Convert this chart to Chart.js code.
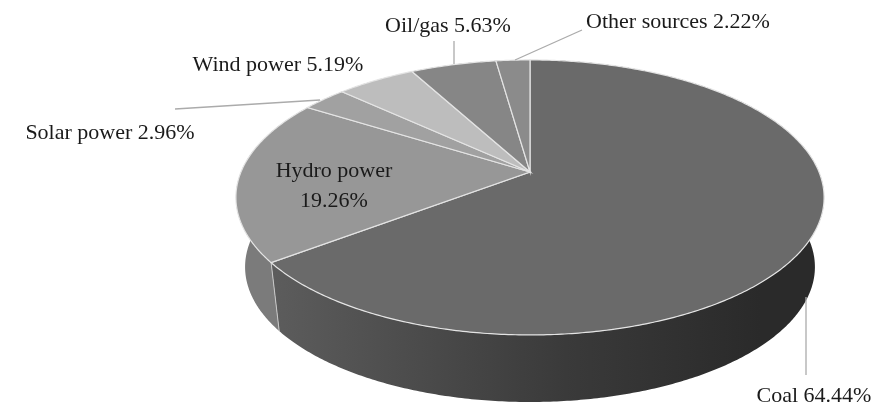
<!DOCTYPE html>
<html lang="en">
<head>
    <meta charset="UTF-8">
    <title>Power generation mix</title>
    <script src="https://cdn.jsdelivr.net/npm/chart.js"></script>
    <style>
        body, html {
            margin: 0;
            padding: 0;
            height: 100%;
            width: 100%;
            overflow: hidden;
            background: #fff;
        }
        canvas {
            width: 100% !important;
            height: 100% !important;
        }
    </style>
</head>
<body>
    <canvas id="mixChart"></canvas>

    <script>
        const sources = ["Coal", "Hydro power", "Solar power", "Wind power", "Oil/gas", "Other sources"];
        const shares = [64.44, 19.26, 2.96, 5.19, 5.63, 2.22];
        const faceColors = ["#6a6a6a", "#979797", "#a1a1a1", "#bdbdbd", "#868686", "#8b8b8b"];

        // perspective of the tilted disc, fitted to the picture
        const topFace = { x: 530, y: 172, a: 289, b: 132.8 };
        const bottomFace = { x: 530, y: 242, a: 280, b: 130.4 };
        const tilt = 0.185;

        // label text anchors and leader lines
        const labelSpots = [
            { lines: (n, v) => [`${n} ${v}%`], x: 814, y: 396 },
            { lines: (n, v) => [n, `${v}%`], x: 334, y: 171 },
            { lines: (n, v) => [`${n} ${v}%`], x: 110, y: 133 },
            { lines: (n, v) => [`${n} ${v}%`], x: 278, y: 65 },
            { lines: (n, v) => [`${n} ${v}%`], x: 448, y: 26 },
            { lines: (n, v) => [`${n} ${v}%`], x: 678, y: 22 }
        ];
        const leaders = [
            [806, 297, 806, 375],
            [175, 109, 320, 100],
            [454, 41, 454, 64],
            [582, 30, 515, 60]
        ];

        function project(face, angle) {
            const t = angle + Math.PI / 2; // clockwise from 12 o'clock
            const w = 1 + tilt * Math.cos(t);
            return [face.x + face.a * Math.sin(t) / w, face.y - face.b * Math.cos(t) / w];
        }

        function rimPoints(face, start, end) {
            const pts = [];
            const steps = Math.max(2, Math.ceil((end - start) / 0.01));
            for (let i = 0; i <= steps; i++) {
                pts.push(project(face, start + (end - start) * i / steps));
            }
            return pts;
        }

        function tracePath(ctx, pts) {
            ctx.beginPath();
            pts.forEach((p, i) => i ? ctx.lineTo(p[0], p[1]) : ctx.moveTo(p[0], p[1]));
            ctx.closePath();
        }

        const disc3d = {
            id: 'disc3d',
            beforeDatasetsDraw(chart) {
                const ctx = chart.ctx;
                const arcs = chart.getDatasetMeta(0).data;
                ctx.save();

                // side wall first, the top face covers the far part of it
                const coalSide = ctx.createLinearGradient(275, 0, 760, 0);
                coalSide.addColorStop(0, '#5c5c5c');
                coalSide.addColorStop(0.6, '#3a3a3a');
                coalSide.addColorStop(1, '#2a2a2a');
                arcs.forEach((arc, i) => {
                    const rim = rimPoints(topFace, arc.startAngle, arc.endAngle);
                    const low = rimPoints(bottomFace, arc.startAngle, arc.endAngle).reverse();
                    tracePath(ctx, rim.concat(low));
                    ctx.fillStyle = i === 0 ? coalSide : i === 1 ? '#7b7b7b' : faceColors[i];
                    ctx.fill();
                    if (Math.cos(arc.startAngle + Math.PI / 2) < 0) {
                        const a = project(topFace, arc.startAngle);
                        const b = project(bottomFace, arc.startAngle);
                        ctx.beginPath();
                        ctx.moveTo(a[0], a[1]);
                        ctx.lineTo(b[0], b[1]);
                        ctx.strokeStyle = '#c8c8c8';
                        ctx.lineWidth = 1;
                        ctx.stroke();
                    }
                });

                // top face
                arcs.forEach((arc, i) => {
                    const pts = [[topFace.x, topFace.y]].concat(rimPoints(topFace, arc.startAngle, arc.endAngle));
                    tracePath(ctx, pts);
                    ctx.fillStyle = faceColors[i];
                    ctx.fill();
                    ctx.strokeStyle = '#e4e4e4';
                    ctx.lineWidth = 1.2;
                    ctx.stroke();
                });

                // leader lines
                ctx.strokeStyle = '#ababab';
                ctx.lineWidth = 1.3;
                leaders.forEach(l => {
                    ctx.beginPath();
                    ctx.moveTo(l[0], l[1]);
                    ctx.lineTo(l[2], l[3]);
                    ctx.stroke();
                });

                // labels
                ctx.fillStyle = '#1a1a1a';
                ctx.font = '22px "Liberation Serif"';
                ctx.textAlign = 'center';
                ctx.textBaseline = 'middle';
                labelSpots.forEach((spot, i) => {
                    spot.lines(sources[i], shares[i].toFixed(2)).forEach((txt, j) => {
                        ctx.fillText(txt, spot.x, spot.y + j * 30);
                    });
                });

                ctx.restore();
                return false; // arcs are drawn above in perspective
            }
        };

        const ctx = document.getElementById('mixChart').getContext('2d');
        new Chart(ctx, {
            type: 'pie',
            data: {
                labels: sources,
                datasets: [{ data: shares, backgroundColor: faceColors }]
            },
            options: {
                animation: false,
                responsive: true,
                maintainAspectRatio: false,
                plugins: {
                    legend: { display: false },
                    tooltip: { enabled: false }
                }
            },
            plugins: [disc3d]
        });
    </script>
</body>
</html>
